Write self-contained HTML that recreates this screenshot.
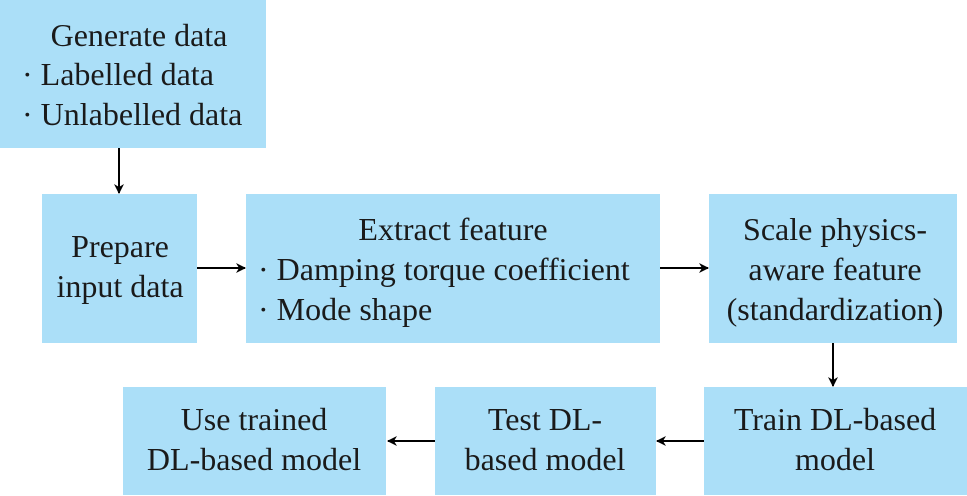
<!DOCTYPE html>
<html><head><style>
html,body{margin:0;padding:0;background:#fff;width:967px;height:496px;overflow:hidden}
</style></head><body>
<svg width="967" height="496" xmlns="http://www.w3.org/2000/svg">
<defs><marker id="a" markerWidth="10" markerHeight="10" refX="9" refY="5" orient="auto" markerUnits="userSpaceOnUse"><path d="M0,0 L10,5 L0,10 L3,5z" fill="#000"/></marker></defs>
<g fill="#abdff8">
<rect x="0" y="0" width="266" height="148"/>
<rect x="42" y="194" width="155" height="149"/>
<rect x="246" y="194" width="414" height="149"/>
<rect x="709" y="194" width="248" height="149"/>
<rect x="704" y="387" width="263" height="108"/>
<rect x="435" y="387" width="221" height="108"/>
<rect x="123" y="387" width="263" height="108"/>
</g>
<g stroke="#000" stroke-width="2" marker-end="url(#a)">
<line x1="119" y1="148" x2="119" y2="193"/>
<line x1="197" y1="268" x2="245" y2="268"/>
<line x1="660" y1="268" x2="708" y2="268"/>
<line x1="833" y1="343" x2="833" y2="386"/>
<line x1="704" y1="441" x2="657" y2="441"/>
<line x1="435" y1="441" x2="388" y2="441"/>
</g>
<g font-family="Liberation Serif, Times New Roman, DejaVu Serif, serif" font-size="32" fill="#1a1a1a">
<text x="139" y="46" text-anchor="middle">Generate data</text>
<text x="22" y="85">· Labelled data</text>
<text x="22" y="125">· Unlabelled data</text>
<text x="120" y="257" text-anchor="middle">Prepare</text>
<text x="120" y="297" text-anchor="middle">input data</text>
<text x="453" y="240" text-anchor="middle">Extract feature</text>
<text x="258" y="280">· Damping torque coefficient</text>
<text x="258" y="320">· Mode shape</text>
<text x="835" y="240" text-anchor="middle">Scale physics-</text>
<text x="835" y="280" text-anchor="middle">aware feature</text>
<text x="835" y="320" text-anchor="middle">(standardization)</text>
<text x="835" y="430" text-anchor="middle">Train DL-based</text>
<text x="835" y="470" text-anchor="middle">model</text>
<text x="545" y="430" text-anchor="middle">Test DL-</text>
<text x="545" y="470" text-anchor="middle">based model</text>
<text x="254" y="430" text-anchor="middle">Use trained</text>
<text x="254" y="470" text-anchor="middle">DL-based model</text>
</g>
</svg>
</body></html>
